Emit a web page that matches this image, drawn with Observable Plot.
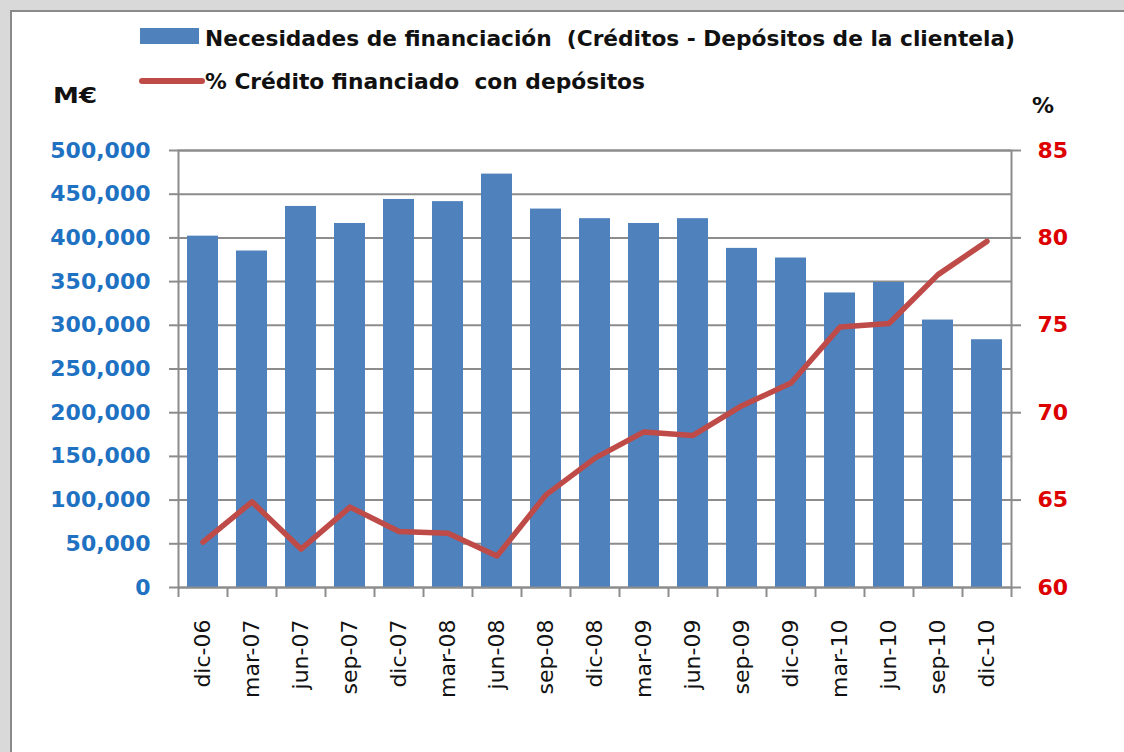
<!DOCTYPE html>
<html><head><meta charset="utf-8">
<script src="https://cdn.jsdelivr.net/npm/d3@7"></script>
<script src="https://cdn.jsdelivr.net/npm/@observablehq/plot@0.6"></script>
<style>
html,body{margin:0;padding:0;background:#d9d9d9;}
#wrap{position:relative;width:1124px;height:752px;overflow:hidden;background:#d9d9d9;}
#card{position:absolute;left:10px;top:10px;width:1130px;height:760px;background:#fff;border-left:2px solid #8a8a8a;border-top:2px solid #8a8a8a;box-sizing:border-box;}
#chart{position:absolute;left:0;top:0;}
#chart svg{overflow:visible;}
#overlay{position:absolute;left:0;top:0;}
</style></head>
<body>
<div id="wrap"><div id="card"></div><div id="chart"></div><svg id="overlay" width="1124" height="130"></svg></div>
<script>
const categories = ["dic-06","mar-07","jun-07","sep-07","dic-07","mar-08","jun-08","sep-08","dic-08","mar-09","jun-09","sep-09","dic-09","mar-10","jun-10","sep-10","dic-10"];
const needs = [402000, 385000, 436000, 416500, 444000, 441500, 473000, 433000, 422000, 416500, 422000, 388000, 377000, 337000, 349000, 306000, 283500];
const pctCovered = [62.6, 64.9, 62.2, 64.6, 63.2, 63.1, 61.8, 65.3, 67.4, 68.9, 68.7, 70.4, 71.7, 74.9, 75.1, 77.9, 79.8];
const leftTicks = [0, 50000, 100000, 150000, 200000, 250000, 300000, 350000, 400000, 450000, 500000];
const rightTicks = [60, 65, 70, 75, 80, 85];
const legendBars = "Necesidades de financiación  (Créditos - Depósitos de la clientela)";
const legendLine = "% Crédito financiado  con depósitos";
const unitLeft = "M€";
const unitRight = "%";

const data = categories.map((c, i) => ({cat: c, needs: needs[i], pct: pctCovered[i]}));
const lMax = leftTicks[leftTicks.length - 1];
const rMin = rightTicks[0], rMax = rightTicks[rightTicks.length - 1];
const toLeft = p => (p - rMin) / (rMax - rMin) * lMax;
const toRight = v => rMin + v / lMax * (rMax - rMin);

const W = 1124, H = 752, mL = 178, mR = 113, mT = 150, mB = 165;
const step = (W - mL - mR) / categories.length;
const grid = "#8c8c8c";

const chart = Plot.plot({
  width: W, height: H,
  marginLeft: mL, marginRight: mR, marginTop: mT, marginBottom: mB,
  style: {background: "transparent", fontFamily: "DejaVu Sans", overflow: "visible"},
  x: {domain: categories, paddingInner: 0.36, paddingOuter: 0.18, axis: null},
  y: {domain: [0, lMax], axis: null},
  marks: [
    Plot.gridY(leftTicks, {stroke: grid, strokeOpacity: 1, strokeWidth: 2}),
    Plot.barY(data, {x: "cat", y: "needs", fill: "#4F81BD"}),
    Plot.frame({stroke: grid, strokeWidth: 2}),
    Plot.axisY({anchor: "left", label: null, ticks: leftTicks, tickSize: 9, tickPadding: 19,
      tickFormat: d3.format(","), stroke: grid, strokeWidth: 2, fill: "#1F72C2",
      fontSize: 22, fontWeight: "bold"}),
    Plot.axisY({anchor: "right", label: null, ticks: rightTicks.map(toLeft), tickSize: 9, tickPadding: 17,
      tickFormat: d => String(Math.round(toRight(d))), stroke: grid, strokeWidth: 2, fill: "#DD0000",
      fontSize: 22, fontWeight: "bold"}),
    Plot.axisX({label: null, ticks: categories, tickSize: 10, tickFormat: () => "", dx: -step / 2,
      stroke: grid, strokeWidth: 2}),
    Plot.axisX({label: null, ticks: categories.slice(-1), tickSize: 10, tickFormat: () => "", dx: step / 2,
      stroke: grid, strokeWidth: 2}),
    Plot.axisX({label: null, ticks: categories, tickSize: 0, tickPadding: 32, tickRotate: -90,
      fill: "#111", fontSize: 22, style: "letter-spacing:1px"}),
    Plot.line(data, {x: "cat", y: d => toLeft(d.pct), stroke: "#BE4B48", strokeWidth: 5.5,
      strokeLinejoin: "round", strokeLinecap: "round"})
  ]
});
document.getElementById("chart").appendChild(chart);

const ov = d3.select("#overlay");
ov.append("rect").attr("x", 140).attr("y", 28).attr("width", 59).attr("height", 16).attr("fill", "#4F81BD");
ov.append("line").attr("x1", 142).attr("x2", 202).attr("y1", 81).attr("y2", 81)
  .attr("stroke", "#BE4B48").attr("stroke-width", 6).attr("stroke-linecap", "round");
const tstyle = t => t.attr("font-family", "DejaVu Sans Condensed, DejaVu Sans").attr("font-weight", "bold")
  .attr("font-size", 22).attr("fill", "#111").attr("lengthAdjust", "spacingAndGlyphs").style("white-space", "pre");
tstyle(ov.append("text").attr("x", 205).attr("y", 46).attr("textLength", 810).attr("xml:space", "preserve").text(legendBars));
tstyle(ov.append("text").attr("x", 205).attr("y", 89).attr("textLength", 440).attr("xml:space", "preserve").text(legendLine));
ov.append("text").attr("x", 53).attr("y", 103).attr("font-family", "DejaVu Sans").attr("font-weight", "bold")
  .attr("font-size", 22).attr("fill", "#111").attr("textLength", 44).attr("lengthAdjust", "spacingAndGlyphs").text(unitLeft);
ov.append("text").attr("x", 1032).attr("y", 113).attr("font-family", "DejaVu Sans").attr("font-weight", "bold")
  .attr("font-size", 22).attr("fill", "#111").text(unitRight);
</script>
</body></html>
